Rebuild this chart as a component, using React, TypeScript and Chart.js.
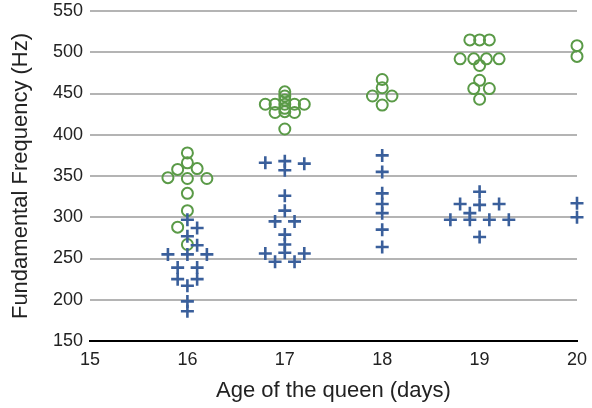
import React, { useEffect, useRef } from "react";
import { Chart, registerables } from "chart.js";

Chart.register(...registerables);

// Green circles (upper frequency group)
const circleAge = [
  16, 16, 15.9, 16.1, 15.8, 16, 16.2, 16, 16, 15.9, 16,
  17, 17, 17, 17, 17, 17, 16.8, 16.9, 17.1, 17.2, 16.9, 17.1, 17,
  18, 18, 17.9, 18.1, 18,
  18.9, 19, 19.1, 18.8, 18.94, 19.07, 19.2, 19, 19, 18.94, 19.1, 19,
  20, 20,
];
const circleFreq = [
  378, 366, 358, 359, 348, 347, 347, 329, 308, 288, 267,
  452, 447, 442, 437, 432, 428, 437, 437, 437, 437, 427, 427, 407,
  467, 457, 447, 447, 436,
  515, 515, 515, 492, 492, 492, 492, 484, 466, 456, 456, 443,
  508, 495,
];

// Blue crosses (lower frequency group)
const crossAge = [
  16, 16.1, 16, 16.1, 15.8, 16, 16.2, 15.9, 16.1, 15.9, 16.1, 16, 16, 16,
  16.8, 17, 17.2, 17, 17, 17, 16.9, 17.1, 17, 17, 16.8, 17, 17.2, 16.9, 17.1,
  18, 18, 18, 18, 18, 18, 18,
  19, 18.8, 19, 19.2, 18.9, 18.7, 18.9, 19.1, 19.3, 19,
  20, 20,
];
const crossFreq = [
  297, 287, 277, 266, 255, 255, 255, 239, 239, 225, 225, 217, 198, 186,
  366, 368, 365, 357, 326, 308, 295, 295, 279, 267, 256, 257, 256, 246, 246,
  375, 355, 329, 316, 305, 285, 264,
  331, 316, 315, 316, 305, 297, 297, 297, 297, 276,
  317, 300,
];

const xTickValues = [15, 16, 17, 18, 19, 20];
const yTickValues = [150, 200, 250, 300, 350, 400, 450, 500, 550];

const FONT = "'Liberation Sans', Arial, Helvetica, sans-serif";

export default function App() {
  const ref = useRef<HTMLCanvasElement>(null);

  useEffect(() => {
    document.body.style.margin = "0";
    const canvas = ref.current;
    if (!canvas) return;
    const chart = new Chart(canvas, {
      type: "scatter",
      data: {
        datasets: [
          {
            label: "Crosses",
            data: crossAge.map((x, i) => ({ x, y: crossFreq[i] })),
            pointStyle: "cross",
            pointRadius: 6.5,
            borderColor: "#3a5f9b",
            backgroundColor: "#3a5f9b",
            borderWidth: 2.6,
            clip: false,
          },
          {
            label: "Circles",
            data: circleAge.map((x, i) => ({ x, y: circleFreq[i] })),
            pointStyle: "circle",
            pointRadius: 5.5,
            borderColor: "#5a9a47",
            backgroundColor: "rgba(0,0,0,0)",
            borderWidth: 2,
            clip: false,
          },
        ],
      },
      options: {
        animation: false,
        responsive: false,
        layout: { padding: { top: 11, right: 15, left: 0, bottom: 0 } },
        plugins: {
          legend: { display: false },
          tooltip: { enabled: false },
        },
        scales: {
          x: {
            type: "linear",
            min: 15,
            max: 20,
            afterBuildTicks: (s: any) => {
              s.ticks = xTickValues.map((v) => ({ value: v }));
            },
            afterFit: (s: any) => {
              s.height = 67;
              s.paddingLeft = 0;
              s.paddingRight = 0;
            },
            grid: { display: false, drawTicks: false },
            border: { display: true, color: "#000", width: 2 },
            ticks: {
              padding: 8,
              color: "#222",
              font: { family: FONT, size: 18 },
            },
            title: {
              display: true,
              text: "Age of the queen (days)",
              color: "#222",
              font: { family: FONT, size: 22 },
              padding: { top: 0, bottom: 4 },
            },
          },
          y: {
            type: "linear",
            min: 150,
            max: 550,
            afterBuildTicks: (s: any) => {
              s.ticks = yTickValues.map((v) => ({ value: v }));
            },
            afterFit: (s: any) => {
              s.width = 90;
              s.paddingTop = 0;
              s.paddingBottom = 0;
            },
            grid: { color: "#b4b4b4", lineWidth: 2, drawTicks: false },
            border: { display: false },
            ticks: {
              padding: 7,
              color: "#222",
              font: { family: FONT, size: 18, lineHeight: 1 },
            },
            title: {
              display: true,
              text: "Fundamental Frequency (Hz)",
              color: "#222",
              font: { family: FONT, size: 22 },
              padding: { top: 8, bottom: 0 },
            },
          },
        },
      },
    });
    return () => chart.destroy();
  }, []);

  return (
    <canvas
      ref={ref}
      width={592}
      height={408}
      style={{ display: "block", width: 592, height: 408 }}
    />
  );
}
